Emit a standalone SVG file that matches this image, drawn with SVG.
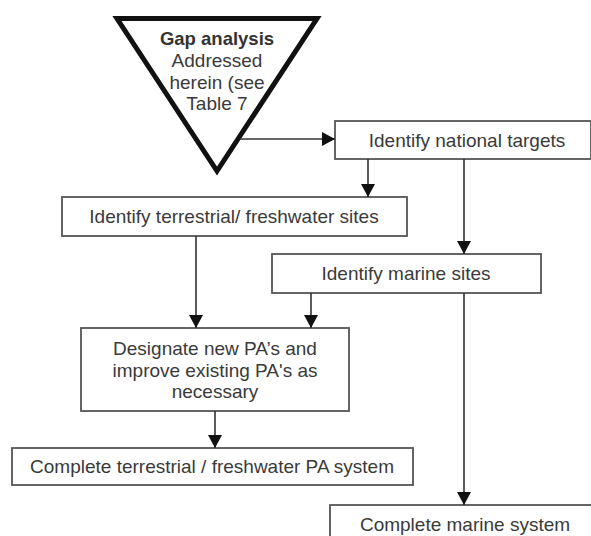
<svg xmlns="http://www.w3.org/2000/svg" width="591" height="536" viewBox="0 0 591 536">
<defs>
<marker id="ah" viewBox="0 0 13 14" refX="13" refY="7" markerWidth="13" markerHeight="14" markerUnits="userSpaceOnUse" orient="auto">
<path d="M0,0 L13,7 L0,14 Z" fill="#111"/>
</marker>
<style>
.box{fill:#fff;stroke:#555;stroke-width:1.8}
.t{font-family:"Liberation Sans",Arial,sans-serif;font-size:19px;fill:#3a3a3a;text-anchor:middle}
.b{font-weight:bold;font-size:18.5px;fill:#333}
.c{stroke:#333;stroke-width:1.6;fill:none}
</style>
</defs>
<rect width="591" height="536" fill="#fff"/>
<g id="gap">
<polygon points="117,18.5 317,18.5 217,171" fill="#fff" stroke="#111" stroke-width="5" stroke-linejoin="miter"/>
<text class="t b" x="217" y="45">Gap analysis</text>
<text class="t" x="217" y="67">Addressed</text>
<text class="t" x="217" y="89">herein (see</text>
<text class="t" x="217" y="110">Table 7</text>
</g>
<g id="national">
<rect class="box" x="335" y="121" width="256" height="38"/>
<text class="t" x="467" y="147">Identify national targets</text>
</g>
<g id="terrestrial">
<rect class="box" x="62" y="197" width="345" height="39"/>
<text class="t" x="234" y="223">Identify terrestrial/ freshwater sites</text>
</g>
<g id="marine">
<rect class="box" x="272" y="254" width="269" height="39"/>
<text class="t" x="406" y="280">Identify marine sites</text>
</g>
<g id="designate">
<rect class="box" x="81" y="328" width="268" height="83"/>
<text class="t" x="215" y="355">Designate new PA’s and</text>
<text class="t" x="215" y="377">improve existing PA's as</text>
<text class="t" x="215" y="398">necessary</text>
</g>
<g id="terrsystem">
<rect class="box" x="12" y="448" width="401" height="37"/>
<text class="t" x="212" y="473">Complete terrestrial / freshwater PA system</text>
</g>
<g id="marinesystem">
<rect class="box" x="330" y="505" width="265" height="40"/>
<text class="t" x="465" y="531">Complete marine system</text>
</g>
<g id="connectors">
<line class="c" x1="240" y1="139" x2="335" y2="139" marker-end="url(#ah)"/>
<line class="c" x1="368" y1="159" x2="368" y2="197" marker-end="url(#ah)"/>
<line class="c" x1="464" y1="159" x2="464" y2="254" marker-end="url(#ah)"/>
<line class="c" x1="196" y1="236" x2="196" y2="328" marker-end="url(#ah)"/>
<line class="c" x1="311" y1="293" x2="311" y2="328" marker-end="url(#ah)"/>
<line class="c" x1="215" y1="411" x2="215" y2="448" marker-end="url(#ah)"/>
<line class="c" x1="464" y1="293" x2="464" y2="505" marker-end="url(#ah)"/>
</g>
</svg>
